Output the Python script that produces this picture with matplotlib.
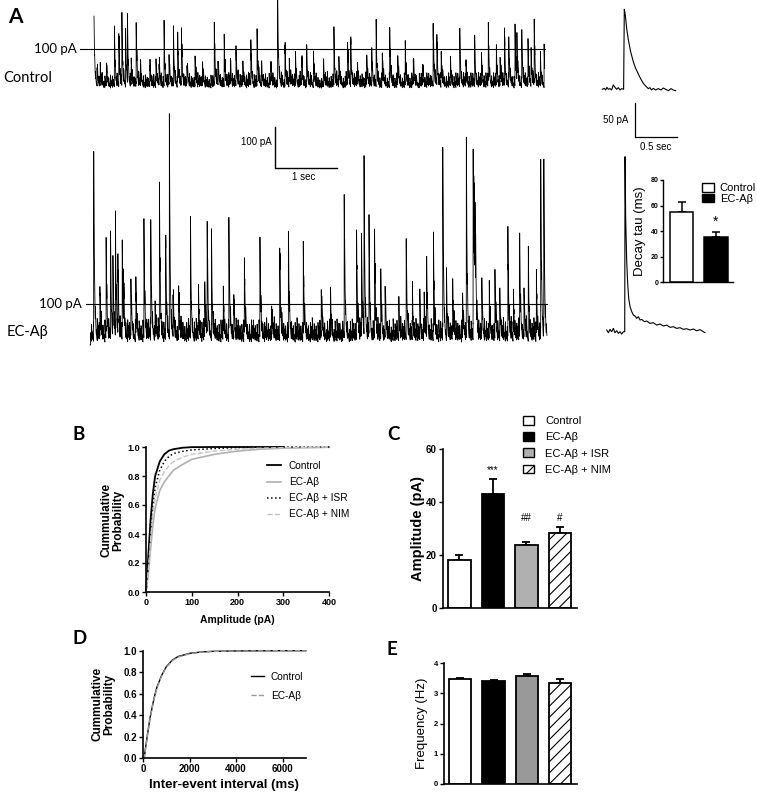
import numpy as np
import matplotlib
matplotlib.use('Agg')
import matplotlib.pyplot as plt
from matplotlib.patches import Patch

W, H = 757, 792
plt.rcParams['font.family'] = ['Liberation Sans', 'DejaVu Sans']
plt.rcParams['hatch.linewidth'] = 0.8

# -------------------
# data
# -------------------
# A: raw traces -- large events (s, pA), medium events, small events (one digit = unit pA)
ctrl_t = [0.00, 0.10, 0.33, 0.40, 0.45, 0.51, 0.54, 0.68, 0.90, 1.00, 1.13, 1.21, 1.28, 1.35, 1.41,
          1.63, 1.94, 2.10, 2.29, 2.53, 2.63, 2.96, 3.08, 3.25, 3.43, 3.54, 3.87, 4.09, 4.14, 4.48,
          4.55, 4.77, 5.02, 5.47, 5.53, 5.90, 6.14, 6.36, 6.49, 6.62, 6.69, 6.79, 6.82, 6.90, 7.00,
          7.10, 7.26]
ctrl_a = [180, 49, 130, 130, 161, 118, 146, 150, 53, 56, 137, 73, 126, 124, 140,
          63, 154, 122, 98, 110, 130, 260, 100, 73, 80, 76, 124, 102, 118, 92,
          141, 130, 89, 154, 123, 124, 102, 144, 87, 140, 102, 149, 106, 122, 114,
          156, 79]
ctrl_mid_t = [0.05, 0.20, 0.60, 0.75, 1.05, 1.50, 1.75, 2.00, 2.20, 2.40, 2.70, 2.85, 3.15, 3.35,
              3.70, 3.95, 4.25, 4.40, 4.65, 4.90, 5.15, 5.30, 5.60, 5.75, 6.00, 6.25, 6.55, 7.05, 7.20]
ctrl_mid_a = [45, 55, 60, 48, 52, 45, 50, 58, 62, 55, 48, 52, 60, 66,
              55, 58, 50, 62, 70, 55, 60, 48, 66, 52, 58, 72, 60, 66, 55]
ctrl_small = ("352746358247364528374653827465382746538274653829465372846537"
              "463827564938276453827465938274653827564938275463829475638274"
              "635284736592847365284739652847365928473652849736528473695284"
              "748362957483625748396257483629574836257948362574839625748362"
              "526374859263748526937485263794852637485926374852693748526374"
              "847263958472639584726395847263958472639584762395847263958476"
              "395846273958462739584627395846273958462739584627395846273958"
              "462739584627395846273958462739584627395846273958462739584627")

ec_t = [0.06, 0.16, 0.26, 0.33, 0.37, 0.41, 0.45, 0.52, 0.74, 0.87, 0.98, 1.12, 1.22, 1.28, 1.43,
        1.62, 1.75, 1.89, 1.96, 2.24, 2.49, 2.74, 3.06, 3.20, 3.44, 4.10, 4.30, 4.38, 4.42, 4.50,
        4.59, 5.10, 5.43, 5.54, 5.69, 6.07, 6.18, 6.19, 6.20, 6.21, 6.22, 6.53,
        6.74, 6.93, 7.07, 7.20, 7.27, 7.32]
ec_a = [431, 122, 230, 264, 175, 290, 195, 215, 137, 264, 256, 366, 244, 550, 132,
        285, 115, 272, 237, 271, 185, 241, 227, 260, 225, 350, 268, 252, 437, 293,
        264, 248, 179, 244, 439, 490, 431, 205, 198, 143, 121, 157,
        268, 250, 191, 157, 415, 413]
ec_mid_t = [0.54, 0.66, 1.05, 1.34, 1.85, 2.15, 2.32, 2.93, 3.73, 3.88, 4.69, 4.76, 4.98, 5.20,
            5.32, 5.39, 5.75, 5.85, 6.01, 6.32, 6.44, 6.61, 6.83, 7.00]
ec_mid_a = [128, 140, 90, 102, 105, 110, 107, 78, 115, 100, 142, 125, 85, 110,
            80, 100, 130, 139, 93, 130, 115, 100, 105, 120]
ec_small = ("573846295738462957384629573846295738462957384629573846295738"
            "684957362849573628495736284957362849573628495736284957362849"
            "795846372958463729584637295846372958463729584637295846372958"
            "462859374628593746285937462859374628593746285937462859374628"
            "583964725839647258396472583964725839647258396472583964725839"
            "649375826493758264937582649375826493758264937582649375826493"
            "758462938475629384756293847562938475629384756293847562938475"
            "836475928364759283647592836475928364759283647592836475928364")

# A: averaged events (s, pA)
avg_ctrl_t = [0.000, 0.024, 0.039, 0.055, 0.071, 0.091, 0.110, 0.130, 0.150, 0.169, 0.189, 0.209,
              0.229, 0.252, 0.260, 0.272, 0.288, 0.307, 0.335, 0.366, 0.394, 0.426, 0.457, 0.485,
              0.512, 0.544, 0.563, 0.583, 0.603, 0.630, 0.662, 0.693, 0.721, 0.749, 0.780, 0.812,
              0.839, 0.867]
avg_ctrl_i = [0, 1.4, -1, 2.8, 0, 1, -1, 6.2, 2.8, 0, 2.4, -1,
              1, 0, 115.6, 107.4, 88, 72.2, 54.4, 40, 30.3, 22.1, 14.4, 8.6,
              4.8, 1, 2.4, -1, 1.4, -1, 1, -1, 1.9, 0, -2, 1,
              -1, -2]
avg_ec_t = [0.000, 0.020, 0.039, 0.059, 0.079, 0.098, 0.118, 0.138, 0.158, 0.177, 0.197, 0.213,
            0.217, 0.224, 0.236, 0.248, 0.260, 0.276, 0.296, 0.315, 0.335, 0.355, 0.374, 0.394,
            0.414, 0.445, 0.473, 0.512, 0.551, 0.591, 0.630, 0.670, 0.709, 0.748, 0.788, 0.827,
            0.866, 0.906, 0.945, 0.985, 1.024, 1.063, 1.103, 1.142, 1.162]
avg_ec_i = [2.4, -1.4, 3.4, 0, 4.8, -1.4, 1.4, -2.4, 0, -3.4, 0, 0,
            252.9, 166.2, 103.6, 69.8, 48.2, 36.1, 28.9, 24.1, 22.6, 19.3, 21.7, 16.9,
            17.8, 14.5, 15.4, 12.0, 13.0, 9.6, 11.1, 8.2, 9.6, 6.3, 7.2, 4.8,
            5.8, 3.4, 4.3, 2.4, 3.9, 1.4, 2.9, 0, -1.4]

tau_groups = ['Control', 'EC-Aβ']
tau_mean = [55.0, 35.6]
tau_sem = [7.8, 3.9]

# B: cumulative amplitude
amp_x = [0, 5, 10, 15, 20, 30, 40, 50, 60, 80, 100, 150, 200, 250, 300, 400]
cdf_ctrl = [0, 0.25, 0.50, 0.68, 0.80, 0.90, 0.95, 0.975, 0.985, 0.995, 0.999, 1.0, 1.0, 1.0, 1.0]
cdf_ec = [0, 0.12, 0.30, 0.46, 0.58, 0.70, 0.76, 0.80, 0.84, 0.88, 0.915, 0.95, 0.972, 0.985, 0.992, 0.998]
cdf_isr = [0, 0.18, 0.42, 0.60, 0.72, 0.84, 0.90, 0.935, 0.955, 0.97, 0.98, 0.99, 0.996, 0.999, 1.0, 1.0]
cdf_nim = [0, 0.15, 0.36, 0.53, 0.65, 0.77, 0.83, 0.87, 0.90, 0.93, 0.95, 0.972, 0.985, 0.992, 0.996, 1.0]

# C: amplitude bars
groups = ['Control', 'EC-Aβ', 'EC-Aβ + ISR', 'EC-Aβ + NIM']
amp_mean = [18.2, 43.0, 23.6, 28.3]
amp_sem = [1.7, 5.7, 1.2, 2.3]
amp_marks = ['', '***', '##', '#']

# D: cumulative inter-event interval
iei_x = [0, 50, 100, 200, 300, 400, 500, 600, 800, 1000, 1250, 1500, 2000, 2500, 3000, 4000, 5000, 6000, 7000]
iei_ctrl = [0, 0.0, 0.08, 0.23, 0.37, 0.48, 0.58, 0.66, 0.77, 0.85, 0.91, 0.945, 0.975, 0.988, 0.994, 0.998, 0.999, 1.0, 1.0]
iei_ec = [0, 0.0, 0.07, 0.22, 0.36, 0.47, 0.57, 0.65, 0.765, 0.845, 0.905, 0.94, 0.972, 0.986, 0.993, 0.997, 0.999, 1.0, 1.0]

# E: frequency bars
freq_mean = [3.47, 3.42, 3.56, 3.34]
freq_sem = [0.02, 0.03, 0.07, 0.13]

# -------------------
# helpers
# -------------------
fig = plt.figure(figsize=(W / 100, H / 100), dpi=100)


def fx(x):
    return x / W


def fy(y):
    return 1 - y / H


def px_axes(x0, y0, x1, y1):
    ax = fig.add_axes([x0 / W, 1 - y1 / H, (x1 - x0) / W, (y1 - y0) / H])
    ax.patch.set_visible(False)
    return ax


def trace_axes(x0, y0, x1, y1, t0_px, base_px, px_s, px_pa):
    ax = px_axes(x0, y0, x1, y1)
    ax.set_xlim((x0 - t0_px) / px_s, (x1 - t0_px) / px_s)
    ax.set_ylim((base_px - y1) / px_pa, (base_px - y0) / px_pa)
    ax.axis('off')
    return ax


def build_trace(t_end, big_t, big_a, mid_t, mid_a, small, unit, dt=0.0015, tau=0.012):
    small_t = np.linspace(0.01, t_end - 0.01, len(small))
    small_a = [int(c) * unit for c in small]
    ev_t = np.concatenate([big_t, mid_t, small_t])
    ev_a = np.concatenate([big_a, mid_a, small_a])
    t = np.sort(np.concatenate([np.arange(0, t_end, dt), ev_t]))
    cur = np.zeros_like(t)
    for t0, a in zip(ev_t, ev_a):
        m = t >= t0
        cur[m] += a * np.exp(-(t[m] - t0) / tau)
    return t, cur


def style(ax, lw=1.2):
    for s in ['top', 'right']:
        ax.spines[s].set_visible(False)
    for s in ['left', 'bottom']:
        ax.spines[s].set_linewidth(lw)
    ax.tick_params(direction='out', length=3, width=1.0, pad=1.5)


def bar_panel(ax, means, sems, colors, hatches, width, lw=1.3):
    x = np.arange(len(means))
    ax.errorbar(x, means, yerr=[np.zeros(len(sems)), sems], fmt='none', ecolor='black',
                elinewidth=lw, capsize=3, capthick=lw, zorder=1)
    bars = ax.bar(x, means, width=width, color=colors, edgecolor='black', linewidth=lw, zorder=2)
    for b, h in zip(bars, hatches):
        if h:
            b.set_hatch(h)
    ax.set_xticks([])
    return x


LABEL_FONT = ['Lato', 'DejaVu Sans']

# -------------------
# A: traces
# -------------------
PX_S, PX_PA = 62.0, 0.41

ax_c = trace_axes(80, 0, 546, 112, 94, 90, PX_S, PX_PA)
t, cur = build_trace(7.27, ctrl_t, ctrl_a, ctrl_mid_t, ctrl_mid_a, ctrl_small, 4)
ax_c.plot(t, cur, color='black', lw=0.6)
ax_c.axhline(100, color='black', lw=0.8)

ax_e = trace_axes(86, 110, 548, 362, 90, 345, PX_S, PX_PA)
t, cur = build_trace(7.37, ec_t, ec_a, ec_mid_t, ec_mid_a, ec_small, 6)
ax_e.plot(t, cur, color='black', lw=0.6)
ax_e.axhline(100, color='black', lw=0.8)
# scale bar 100 pA / 1 sec
ax_e.plot([2.984, 2.984, 3.984], [532, 432, 432], color='black', lw=1.0)
ax_e.text(2.93, 495, '100 pA', ha='right', va='center', fontsize=7)
ax_e.text(3.45, 410, '1 sec', ha='center', va='center', fontsize=7)

fig.text(fx(8), fy(23), 'A', fontsize=15, fontweight='bold', family=LABEL_FONT, va='baseline')
fig.text(fx(77), fy(49), '100 pA', fontsize=9.5, family=LABEL_FONT, ha='right', va='center')
fig.text(fx(3), fy(78), 'Control', fontsize=10.5, family=LABEL_FONT, ha='left', va='center')
fig.text(fx(82), fy(304), '100 pA', fontsize=9.5, family=LABEL_FONT, ha='right', va='center')
fig.text(fx(7), fy(332), 'EC-Aβ', fontsize=10.5, family=LABEL_FONT, ha='left', va='center')

# averaged events
PX_S2, PX_PA2 = 84.6, 0.692
ax_ac = trace_axes(595, 0, 712, 152, 602.3, 89.3, PX_S2, PX_PA2)
ax_ac.plot(avg_ctrl_t, avg_ctrl_i, color='black', lw=0.8)
ax_ac.plot([0.386, 0.386, 0.886], [-19.4, -69.4, -69.4], color='black', lw=0.9)
ax_ac.text(0.31, -44, '50 pA', ha='right', va='center', fontsize=7)
ax_ac.text(0.636, -83, '0.5 sec', ha='center', va='center', fontsize=7)

ax_ae = trace_axes(595, 140, 712, 345, 606.7, 331.7, PX_S2, PX_PA2)
ax_ae.plot(avg_ec_t, avg_ec_i, color='black', lw=0.8)

# decay tau inset
ax_tau = px_axes(662.7, 180, 733.3, 282.3)
style(ax_tau, lw=1.0)
xt = bar_panel(ax_tau, tau_mean, tau_sem, ['white', 'black'], [None, None], 0.68, lw=1.1)
ax_tau.set_xlim(-0.554, 1.504)
ax_tau.set_ylim(0, 80)
ax_tau.set_yticks([0, 20, 40, 60, 80], labels=['0', '20', '40', '60', '80'], fontsize=5, fontweight='bold')
ax_tau.tick_params(length=2, pad=1)
ax_tau.text(xt[1], 47.3, '*', ha='center', va='center', fontsize=10)
fig.text(fx(640), fy(231), 'Decay tau (ms)', rotation=90, ha='center', va='center', fontsize=9.5)
fig.legend([Patch(facecolor=c, edgecolor='black', lw=1) for c in ['white', 'black']], tau_groups,
           loc='upper left', bbox_to_anchor=(fx(702), fy(183)), frameon=False, borderpad=0,
           borderaxespad=0, handlelength=1.1, handleheight=0.8, handletextpad=0.5,
           labelspacing=0.05, fontsize=8)

# -------------------
# B: cumulative amplitude
# -------------------
ax_b = px_axes(146, 447, 329.3, 592)
style(ax_b)
ax_b.plot(amp_x[:len(cdf_ctrl)], cdf_ctrl, color='black', lw=1.3, clip_on=False, label='Control')
ax_b.plot(amp_x, cdf_ec, color='#b0b0b0', lw=1.2, clip_on=False, label='EC-Aβ')
ax_b.plot(amp_x, cdf_isr, color='black', lw=1.1, ls=':', clip_on=False, label='EC-Aβ + ISR')
ax_b.plot(amp_x, cdf_nim, color='#c4c4c4', lw=1.0, ls='--', clip_on=False, label='EC-Aβ + NIM')
ax_b.set_xlim(0, 400)
ax_b.set_ylim(0, 1)
ax_b.set_xticks([0, 100, 200, 300, 400], labels=['0', '100', '200', '300', '400'], fontsize=6.5, fontweight='bold')
ax_b.set_yticks(np.arange(0, 1.01, 0.2), labels=['0.0', '0.2', '0.4', '0.6', '0.8', '1.0'], fontsize=6.5, fontweight='bold')
fig.text(fx(237.5), fy(620), 'Amplitude (pA)', ha='center', va='center', fontsize=7.5, fontweight='bold')
fig.text(fx(112), fy(520), 'Cummulative\nProbability', rotation=90, ha='center', va='center',
         fontsize=8.5, fontweight='bold', linespacing=1.0)
fig.text(fx(73), fy(440), 'B', fontsize=13.5, fontweight='bold', family=LABEL_FONT, va='baseline')
ax_b.legend(loc='upper left', bbox_to_anchor=(fx(267), fy(461)), bbox_transform=fig.transFigure,
            frameon=False, borderpad=0, borderaxespad=0, handlelength=1.35, handletextpad=0.8,
            labelspacing=0.6, fontsize=7.3)

# -------------------
# C: amplitude bars
# -------------------
bar_colors_c = ['white', 'black', '#b0b0b0', 'white']
bar_hatch = [None, None, None, '///']
ax_cb = px_axes(443, 449, 577, 608)
style(ax_cb)
xc = bar_panel(ax_cb, amp_mean, amp_sem, bar_colors_c, bar_hatch, 0.67)
ax_cb.set_xlim(-0.49, 3.51)
ax_cb.set_ylim(0, 60)
ax_cb.set_yticks([0, 20, 40, 60], labels=['0', '20', '40', '60'], fontsize=7, fontweight='bold')
mark_y = [0, 52, 34, 34]
for x, m, y in zip(xc, amp_marks, mark_y):
    if m:
        ax_cb.text(x, y, m, ha='center', va='center', fontsize=7)
fig.text(fx(418), fy(528.5), 'Amplitude (pA)', rotation=90, ha='center', va='center',
         fontsize=10.5, fontweight='bold')
fig.text(fx(387), fy(440), 'C', fontsize=13.5, fontweight='bold', family=LABEL_FONT, va='baseline')
fig.legend([Patch(facecolor=c, edgecolor='black', hatch=h, lw=1) for c, h in zip(bar_colors_c, bar_hatch)],
           groups, loc='upper left', bbox_to_anchor=(fx(523), fy(416)), frameon=False, borderpad=0,
           borderaxespad=0, handlelength=1.0, handleheight=0.8, handletextpad=1.0,
           labelspacing=0.55, fontsize=8)

# -------------------
# D: cumulative inter-event interval
# -------------------
ax_d = px_axes(143, 650.7, 305.8, 758)
style(ax_d)
ax_d.plot(iei_x, iei_ctrl, color='black', lw=1.0, clip_on=False, label='Control')
ax_d.plot(iei_x, iei_ec, color='#999999', lw=1.0, ls='--', clip_on=False, label='EC-Aβ')
ax_d.set_xlim(0, 7000)
ax_d.set_ylim(0, 1)
ax_d.set_xticks([0, 2000, 4000, 6000], labels=['0', '2000', '4000', '6000'], fontsize=7, fontweight='bold')
ax_d.set_yticks(np.arange(0, 1.01, 0.2), labels=['0.0', '0.2', '0.4', '0.6', '0.8', '1.0'], fontsize=7, fontweight='bold')
fig.text(fx(224), fy(785), 'Inter-event interval (ms)', ha='center', va='center', fontsize=9.5, fontweight='bold')
fig.text(fx(103), fy(704), 'Cummulative\nProbability', rotation=90, ha='center', va='center',
         fontsize=8.5, fontweight='bold', linespacing=1.0)
fig.text(fx(73), fy(644), 'D', fontsize=13.5, fontweight='bold', family=LABEL_FONT, va='baseline')
ax_d.legend(loc='upper left', bbox_to_anchor=(fx(251), fy(672)), bbox_transform=fig.transFigure,
            frameon=False, borderpad=0, borderaxespad=0, handlelength=1.25, handletextpad=0.7,
            labelspacing=0.85, fontsize=7.3)

# -------------------
# E: frequency bars
# -------------------
bar_colors_e = ['white', 'black', '#999999', 'white']
ax_eb = px_axes(444, 663, 577, 784)
style(ax_eb)
bar_panel(ax_eb, freq_mean, freq_sem, bar_colors_e, bar_hatch, 0.67)
ax_eb.set_xlim(-0.49, 3.51)
ax_eb.set_ylim(0, 4)
ax_eb.set_yticks([0, 1, 2, 3, 4], labels=['0', '1', '2', '3', '4'], fontsize=5.5, fontweight='bold')
fig.text(fx(422), fy(723), 'Frequency (Hz)', rotation=90, ha='center', va='center', fontsize=9.5)
fig.text(fx(387), fy(655), 'E', fontsize=13.5, fontweight='bold', family=LABEL_FONT, va='baseline')

fig.savefig('out.png', dpi=100)
